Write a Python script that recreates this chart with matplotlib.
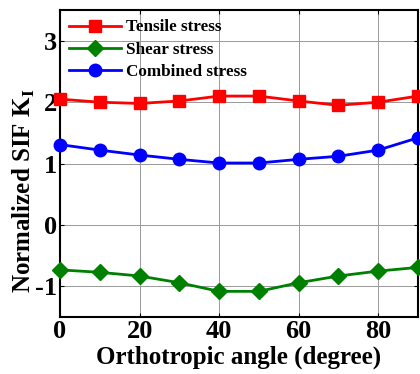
import matplotlib
matplotlib.use("Agg")
import matplotlib.pyplot as plt

angles = [0, 10, 20, 30, 40, 50, 60, 70, 80, 90]
tensile = [2.05, 2.00, 1.98, 2.02, 2.10, 2.10, 2.02, 1.95, 2.00, 2.10]
shear = [-0.73, -0.77, -0.83, -0.94, -1.08, -1.08, -0.94, -0.83, -0.75, -0.69]
combined = [1.31, 1.22, 1.14, 1.07, 1.01, 1.01, 1.07, 1.12, 1.22, 1.42]

plt.rcParams['font.family'] = ['Liberation Serif', 'DejaVu Serif']
plt.rcParams['font.weight'] = 'bold'
plt.rcParams['axes.unicode_minus'] = False
plt.rcParams['mathtext.fontset'] = 'custom'
plt.rcParams['mathtext.rm'] = 'Liberation Serif:bold'
plt.rcParams['mathtext.bf'] = 'Liberation Serif:bold'

fig = plt.figure(figsize=(4.2, 3.74), dpi=100)
ax = fig.add_axes([0.143, 0.152, 0.852, 0.821])

ax.plot(angles, tensile, color='red', marker='s', markersize=9, lw=2, label='Tensile stress', clip_on=False, zorder=3)
ax.plot(angles, shear, color='green', marker='D', markersize=8, lw=2, label='Shear stress', clip_on=False, zorder=3)
ax.plot(angles, combined, color='blue', marker='o', markersize=9, lw=2, label='Combined stress', clip_on=False, zorder=3)

ax.set_xlim(0, 90)
ax.set_ylim(-1.5, 3.5)
ax.set_xticks([0, 20, 40, 60, 80])
ax.set_yticks([-1, 0, 1, 2, 3])
ax.grid(True, color='#999999', lw=0.7)
ax.tick_params(direction='in', length=3, labelsize=19, pad=2, top=True, right=True)
for lbl in ax.get_xticklabels() + ax.get_yticklabels():
    lbl.set_fontweight('bold')
for sp in ax.spines.values():
    sp.set_linewidth(1.5)

ax.set_xlabel('Orthotropic angle (degree)', fontsize=18, fontweight='bold', labelpad=2)
ax.set_ylabel(r'Normalized SIF K$_\mathrm{I}$', fontsize=18, fontweight='bold')
ax.yaxis.set_label_coords(-0.064, 0.41)

ax.legend(loc='upper left', frameon=False, prop={'size': 12.3, 'weight': 'bold'},
          handlelength=3.0, handletextpad=0.3, borderaxespad=0.15, labelspacing=0.38)

fig.savefig('out.png', dpi=100)
